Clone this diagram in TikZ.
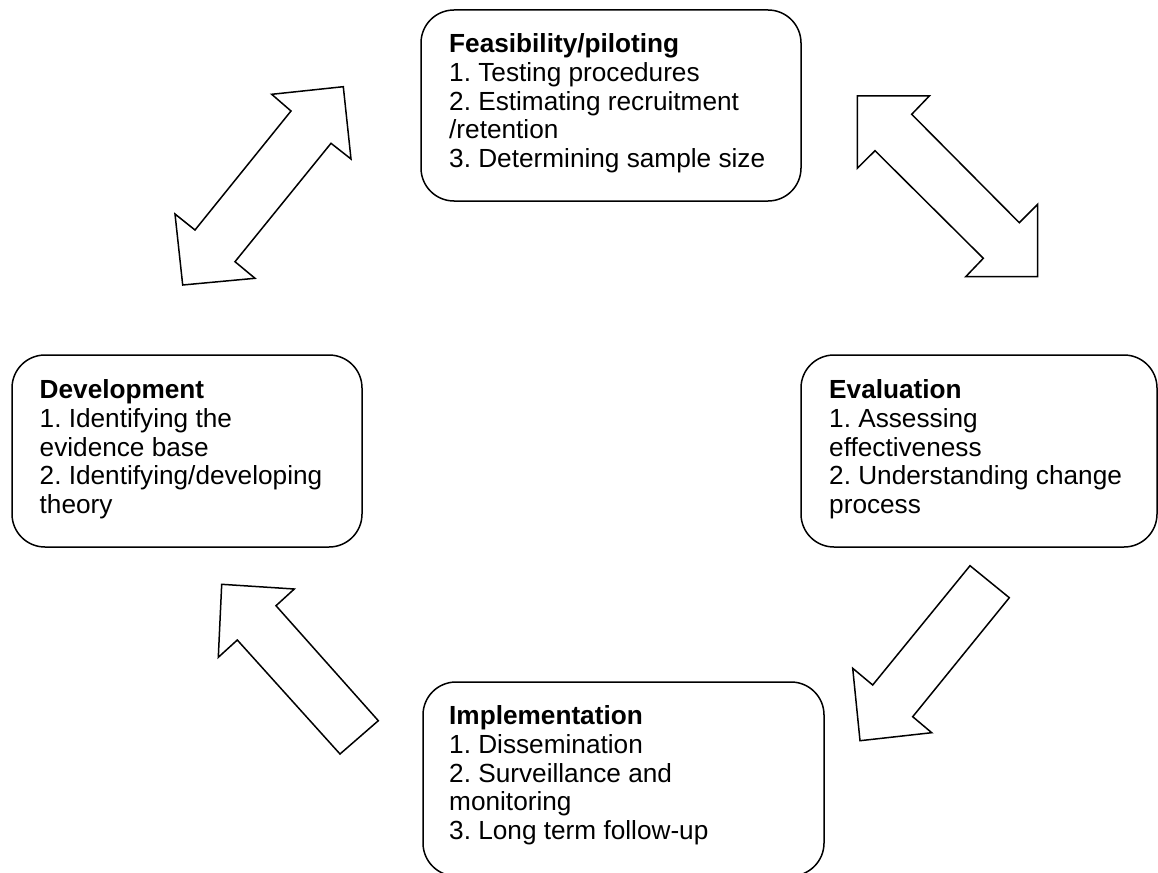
\documentclass[tikz,border=0pt]{standalone}
\usepackage{fontspec}
\setmainfont{Liberation Sans}
\frenchspacing
\begin{document}
\begin{tikzpicture}[x=1pt,y=-1pt,
  stagebox/.style={draw=black,line width=1.5pt,rounded corners=33pt},
  stagetext/.style={anchor=base west,inner sep=0pt,align=left,font=\fontsize{26.2}{28.7}\selectfont},
  blockarrow/.style={draw=black,line width=1.5pt,fill=white,line join=miter}]
\useasboundingbox (0,0) rectangle (1158,872);
% boxes
\draw[stagebox] (421,10) rectangle (801,201);
\draw[stagebox] (12,355) rectangle (362,547);
\draw[stagebox] (801,355) rectangle (1157,547);
\draw[stagebox] (423,682) rectangle (824,876);
% texts (anchored at the baseline of the last line)
\node[stagetext] (feas) at (449,167.5) {\textbf{Feasibility/piloting}\\1. Testing procedures\\2. Estimating recruitment\\/retention\\3. Determining sample size};
\node[stagetext] (dev) at (39.5,513.5) {\textbf{Development}\\1. Identifying the\\evidence base\\2. Identifying/developing\\theory};
\node[stagetext] (eval) at (829,513.5) {\textbf{Evaluation}\\1. Assessing\\effectiveness\\2. Understanding change\\process};
\node[stagetext] (impl) at (449,839.5) {\textbf{Implementation}\\1. Dissemination\\2. Surveillance and\\monitoring\\3. Long term follow-up};
% arrows
\draw[blockarrow] (343.3,86.7) -- (351,159) -- (331,143.3) -- (235,261.7) -- (255,278.3) -- (182.7,285) -- (175,214) -- (195,230) -- (291,111) -- (271.7,94.3) -- cycle;
\draw[blockarrow] (857.3,96) -- (929.3,96) -- (911.7,114.3) -- (1019.3,222.7) -- (1037.7,204.3) -- (1037.7,276.7) -- (965.7,276.7) -- (983.3,258.3) -- (875,150.7) -- (857.3,168.3) -- cycle;
\draw[blockarrow] (970,565.7) -- (1009.3,597.7) -- (912.7,716.7) -- (931.7,732.7) -- (860,740.7) -- (852.7,668.3) -- (872.7,685) -- cycle;
\draw[blockarrow] (221.7,584.3) -- (294.3,589) -- (276,605.7) -- (378.3,720.7) -- (340,754) -- (237.3,640) -- (218.3,657.3) -- cycle;
\end{tikzpicture}
\end{document}
